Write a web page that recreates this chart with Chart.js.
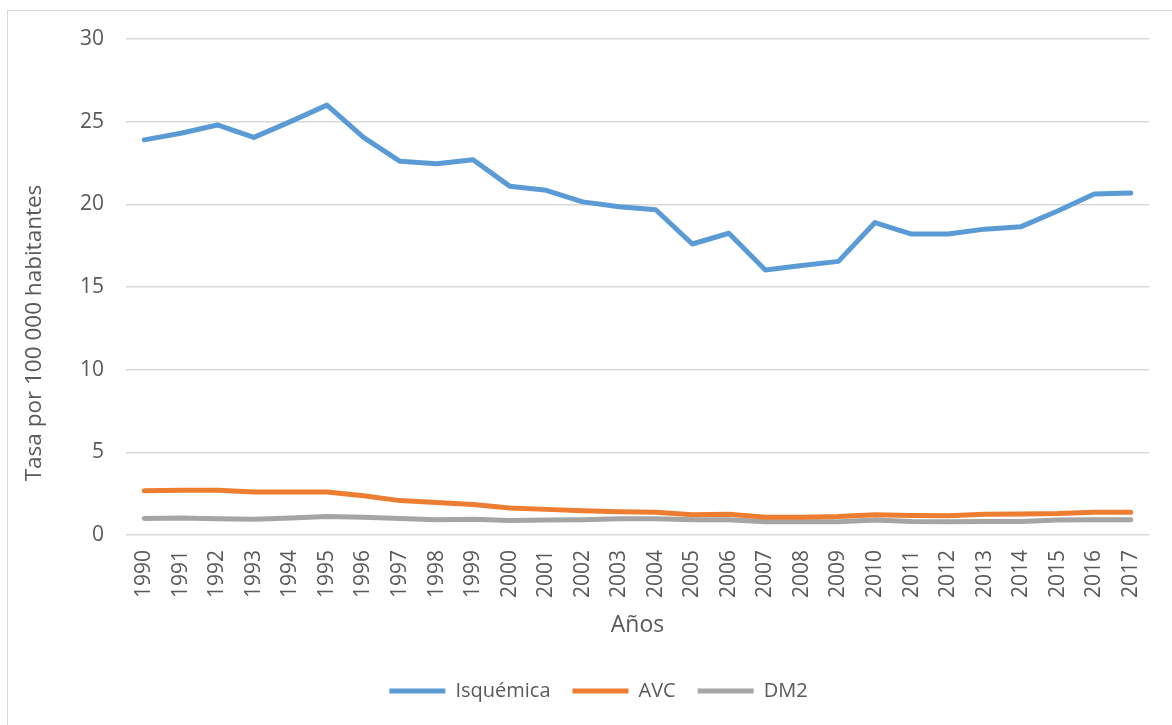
<!DOCTYPE html>
<html>
<head>
<meta charset="utf-8">
<script src="https://cdn.jsdelivr.net/npm/chart.js@4"></script>
<style>
  html, body { margin: 0; padding: 0; background: #fff; }
  #frame { position: absolute; left: 7px; top: 10px; width: 1170px; height: 720px; border: 1px solid #d9d9d9; }
  #wrap { position: absolute; left: 0; top: 0; width: 1172px; height: 725px; }
</style>
</head>
<body>
<div id="frame"></div>
<div id="wrap"><canvas id="chart"></canvas></div>
<script>
const years = ['1990','1991','1992','1993','1994','1995','1996','1997','1998','1999',
  '2000','2001','2002','2003','2004','2005','2006','2007','2008','2009',
  '2010','2011','2012','2013','2014','2015','2016','2017']

const isquemica = [23.9, 24.3, 24.8, 24.05, 25.0, 26.0, 24.05, 22.6, 22.45, 22.7,
  21.1, 20.85, 20.15, 19.85, 19.67, 17.6, 18.25, 16.03, 16.3, 16.55,
  18.9, 18.2, 18.2, 18.5, 18.65, 19.6, 20.62, 20.68]

const avc = [2.67, 2.7, 2.7, 2.6, 2.6, 2.6, 2.37, 2.08, 1.96, 1.84,
  1.64, 1.55, 1.46, 1.4, 1.38, 1.22, 1.25, 1.08, 1.08, 1.12,
  1.22, 1.18, 1.16, 1.25, 1.27, 1.3, 1.38, 1.38]

const dm2 = [1.0, 1.03, 0.98, 0.95, 1.03, 1.12, 1.07, 1.0, 0.92, 0.95,
  0.88, 0.9, 0.92, 0.98, 0.98, 0.92, 0.92, 0.8, 0.8, 0.8,
  0.9, 0.82, 0.8, 0.82, 0.82, 0.9, 0.92, 0.92]

const yTitle = 'Tasa por 100 000 habitantes'
const xTitle = 'Años'

const FONT = "'Open Sans', 'Liberation Sans', sans-serif"
const TEXT = '#595959'

function lineSet(label, data, color) {
  return {
    label: label,
    data: data,
    borderColor: color,
    backgroundColor: color,
    borderWidth: 5,
    borderCapStyle: 'round',
    borderJoinStyle: 'round',
    pointRadius: 0,
    pointHoverRadius: 0,
    tension: 0,
    fill: false
  }
}

// y axis title, placed like the original (a bit below the plot centre)
const yTitlePlugin = {
  id: 'yTitle',
  afterDraw(chart) {
    const ctx = chart.ctx
    const area = chart.chartArea
    ctx.save()
    ctx.translate(35, area.top + 294)
    ctx.rotate(-Math.PI / 2)
    ctx.font = '22.5px ' + FONT
    ctx.fillStyle = TEXT
    ctx.textAlign = 'center'
    ctx.textBaseline = 'middle'
    ctx.fillText(yTitle, 0, 0)
    ctx.restore()
  }
}

new Chart(document.getElementById('chart'), {
  type: 'line',
  data: {
    labels: years,
    datasets: [
      lineSet('Isquémica', isquemica, '#5b9bd5'),
      lineSet('AVC', avc, '#ed7d31'),
      lineSet('DM2', dm2, '#a5a5a5')
    ]
  },
  options: {
    responsive: true,
    maintainAspectRatio: false,
    animation: false,
    layout: { padding: { top: 39, right: 23, bottom: 14, left: 48 } },
    scales: {
      x: {
        offset: true,
        grid: { display: false, drawTicks: false },
        border: { display: false },
        ticks: {
          color: TEXT,
          font: { family: FONT, size: 21 },
          minRotation: 90,
          maxRotation: 90,
          padding: 15,
          autoSkip: false
        },
        title: {
          display: true,
          text: xTitle,
          color: TEXT,
          font: { family: FONT, size: 23 },
          padding: { top: 0, bottom: 20 }
        },
        afterFit(scale) { scale.height = 124 }
      },
      y: {
        min: 0,
        max: 30,
        grid: { color: '#d9d9d9', lineWidth: 1.5, drawTicks: false },
        border: { display: false },
        ticks: {
          stepSize: 5,
          color: TEXT,
          font: { family: FONT, size: 21 },
          padding: 22
        },
        afterFit(scale) { scale.width = 78 }
      }
    },
    plugins: {
      legend: {
        position: 'bottom',
        labels: {
          usePointStyle: true,
          pointStyle: 'line',
          pointStyleWidth: 56,
          color: TEXT,
          font: { family: FONT, size: 20 },
          padding: 22
        }
      },
      tooltip: { enabled: false }
    }
  },
  plugins: [yTitlePlugin]
})
</script>
</body>
</html>
